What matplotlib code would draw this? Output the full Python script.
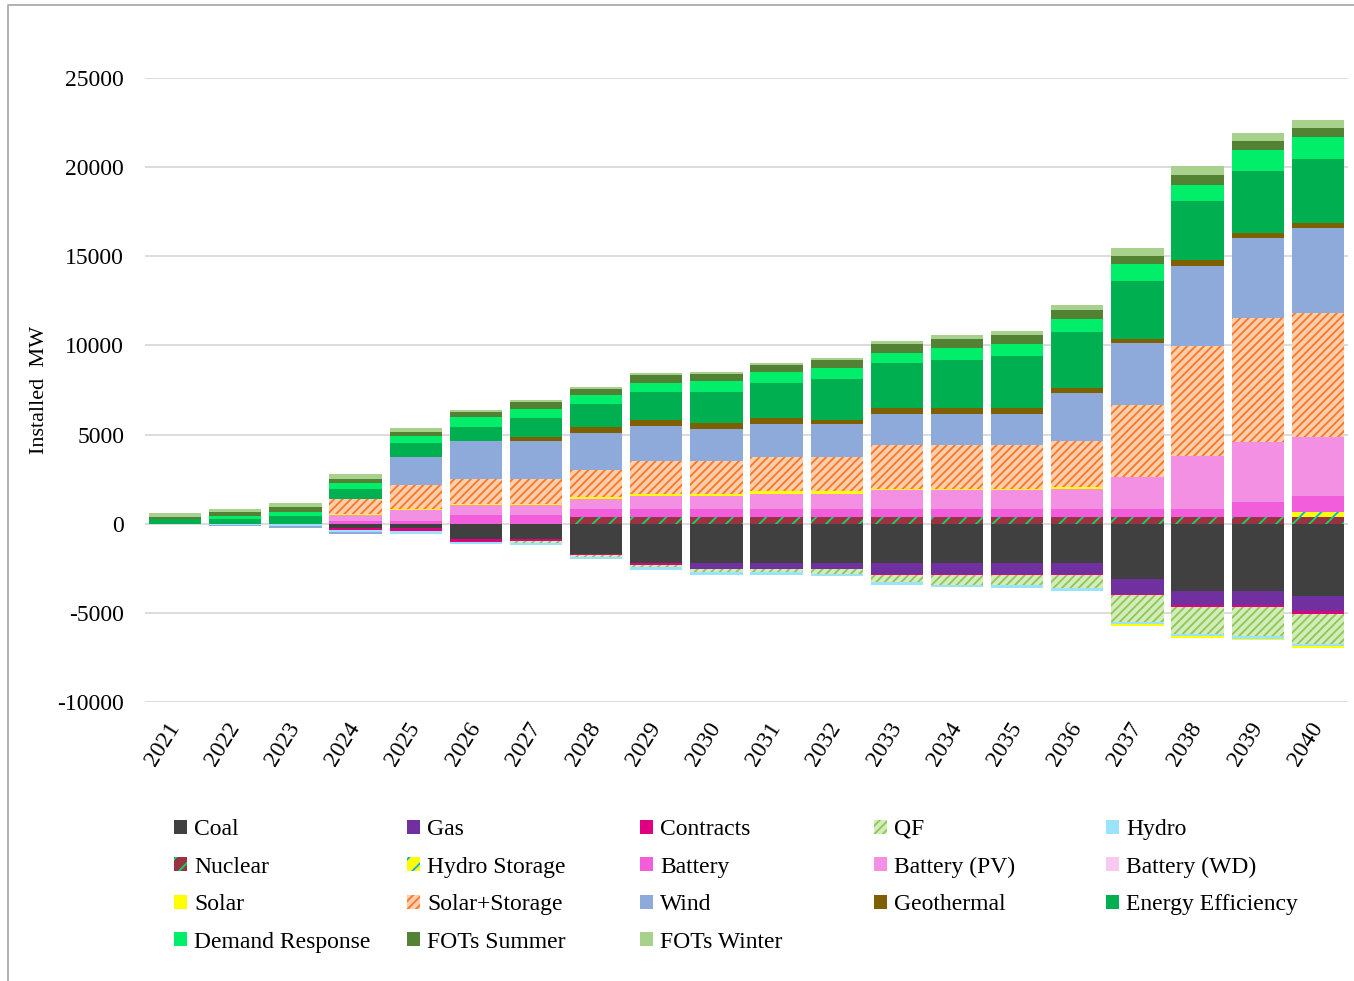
import matplotlib
matplotlib.use("Agg")
import matplotlib.pyplot as plt
import numpy as np
from matplotlib.patches import Patch
from matplotlib.lines import Line2D

plt.rcParams['font.family'] = ['Liberation Serif', 'DejaVu Serif']
plt.rcParams['hatch.linewidth'] = 1.3
plt.rcParams['axes.unicode_minus'] = False

years = [str(y) for y in range(2021, 2041)]

# MW per resource, 2021..2040 (negative = retirements / reductions)
coal = [0, 0, 0, -220, -220, -880, -880, -1700, -2200, -2200, -2200, -2200, -2200, -2200, -2200, -2200, -3100, -3760, -3760, -4050]
gas = [0, 0, 0, 0, 0, 0, 0, 0, 0, -320, -320, -320, -620, -620, -620, -620, -860, -820, -820, -820]
contracts = [0, 0, 0, -110, -190, -130, -90, -75, -90, -40, -40, -40, -55, -55, -55, -55, -60, -80, -80, -180]
qf = [0, 0, 0, 0, 0, 0, -90, -75, -150, -150, -150, -240, -390, -540, -580, -730, -1470, -1530, -1650, -1690]
hydro = [0, -50, -120, -150, -150, -150, -150, -150, -130, -150, -150, -130, -150, -110, -150, -150, -140, -100, -160, -120]
nuclear = [0, 0, 0, 0, 0, 0, 0, 350, 350, 350, 350, 350, 350, 350, 350, 350, 350, 350, 350, 350]
hydro_storage = [0] * 19 + [310]
battery = [0, 0, 0, 150, 150, 500, 500, 500, 500, 500, 500, 500, 500, 500, 500, 500, 490, 490, 880, 920]
battery_pv = [0, 0, 0, 350, 600, 540, 540, 560, 710, 730, 820, 820, 1045, 1045, 1045, 1120, 1800, 2980, 3330, 3290]
battery_wd = [0] * 20
solar = [0, 0, 0, 60, 60, 60, 60, 90, 90, 75, 150, 150, 75, 75, 75, 75, -120, -100, -80, -100]
solar_storage = [0, 0, 0, 820, 1340, 1380, 1380, 1510, 1850, 1850, 1940, 1940, 2450, 2450, 2450, 2610, 4000, 6150, 6980, 6940]
wind = [0, -80, -100, -110, 1600, 2150, 2150, 2070, 1980, 1830, 1830, 1830, 1740, 1740, 1740, 2650, 3500, 4490, 4490, 4800]
geothermal = [0, 0, 0, 0, 0, 0, 240, 336, 355, 336, 317, 240, 336, 336, 336, 280, 235, 310, 255, 255]
energy_eff = [240, 240, 410, 580, 750, 800, 1080, 1325, 1570, 1740, 2000, 2310, 2520, 2670, 2910, 3150, 3250, 3310, 3490, 3590]
demand_resp = [0, 190, 240, 350, 410, 560, 500, 500, 500, 600, 600, 600, 580, 670, 690, 750, 920, 940, 1180, 1235]
fots_summer = [130, 240, 260, 220, 240, 300, 400, 336, 450, 410, 390, 430, 500, 500, 500, 500, 490, 530, 490, 510]
fots_winter = [230, 170, 240, 260, 240, 100, 110, 75, 93, 75, 93, 130, 150, 260, 240, 280, 410, 490, 490, 470]

# name, values, facecolor, hatch colour, hatch
series = [
    ("Coal", coal, "#404040", None, None),
    ("Gas", gas, "#7030a0", None, None),
    ("Contracts", contracts, "#e0007f", None, None),
    ("QF", qf, "#d4ebbd", "#8cc850", "////"),
    ("Hydro", hydro, "#9be3fb", None, None),
    ("Nuclear", nuclear, "#993344", "#00e060", "//"),
    ("Hydro Storage", hydro_storage, "#ffff00", "#00b0f0", "//"),
    ("Battery", battery, "#f25ddc", None, None),
    ("Battery (PV)", battery_pv, "#f490e4", None, None),
    ("Battery (WD)", battery_wd, "#f9c9f0", None, None),
    ("Solar", solar, "#ffff00", None, None),
    ("Solar+Storage", solar_storage, "#fbcfae", "#ff7522", "////"),
    ("Wind", wind, "#8eaadb", None, None),
    ("Geothermal", geothermal, "#7f6000", None, None),
    ("Energy Efficiency", energy_eff, "#00b050", None, None),
    ("Demand Response", demand_resp, "#00ee6a", None, None),
    ("FOTs Summer", fots_summer, "#548235", None, None),
    ("FOTs Winter", fots_winter, "#a9d18e", None, None),
]

W, H = 1354, 981
fig = plt.figure(figsize=(W / 100, H / 100), dpi=100)
ax = fig.add_axes([145 / W, 1 - 702 / H, 1203 / W, 624 / H])

x = np.arange(len(years))
pos = np.zeros(len(years))
neg = np.zeros(len(years))
handles = {}
for name, vals, fc, hc, hatch in series:
    v = np.array(vals, dtype=float)
    bottom = np.where(v >= 0, pos, neg)
    if hatch:
        ax.bar(x, v, bottom=bottom, width=0.87, color=fc, edgecolor=hc, hatch=hatch, linewidth=0, zorder=2)
        handles[name] = Patch(facecolor=fc, edgecolor=hc, hatch=hatch, linewidth=0)
    else:
        ax.bar(x, v, bottom=bottom, width=0.87, color=fc, linewidth=0, zorder=2)
        handles[name] = Patch(facecolor=fc, linewidth=0)
    pos += np.clip(v, 0, None)
    neg += np.clip(v, None, 0)

ax.set_xlim(-0.5, len(years) - 0.5)
ax.set_ylim(-10000, 25000)
ax.set_yticks(np.arange(-10000, 25001, 5000))
ax.yaxis.grid(True, color="#d9d9d9", linewidth=1.3, zorder=0)
ax.set_axisbelow(True)
for s in ax.spines.values():
    s.set_visible(False)
ax.tick_params(axis="y", length=0, pad=15, labelsize=17)
ax.tick_params(axis="x", length=0, pad=16, labelsize=17)
ax.set_xticks(x)
ax.set_xticklabels(years, rotation=58, ha="right", va="center", rotation_mode="anchor")
ax.set_ylabel("Installed  MW", fontsize=16, labelpad=6)

# legend: five columns, filled row by row
names = [s[0] for s in series]
cols = [names[i::5] for i in range(5)]
col_x = [174, 407, 640, 874, 1106]
for cx, col in zip(col_x, cols):
    fig.legend([handles[n] for n in col], col, loc="upper left",
               bbox_to_anchor=(cx / W, 1 - 819 / H), frameon=False,
               fontsize=17, handlelength=0.55, handleheight=0.55,
               handletextpad=0.3, labelspacing=0.7, borderaxespad=0, borderpad=0)

# outer chart border
fig.add_artist(Line2D([8 / W, 8 / W, 1.0], [0, 1 - 5 / H, 1 - 5 / H], color="#a6a6a6", linewidth=1.2))

fig.savefig("out.png", dpi=100)
